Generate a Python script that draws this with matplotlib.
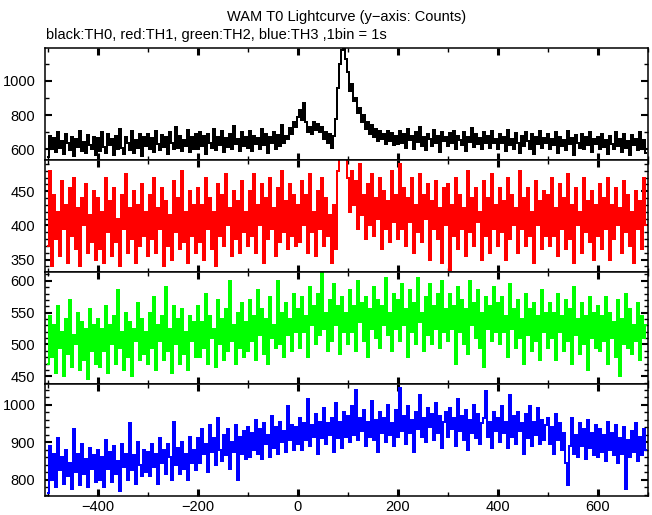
import numpy as np
import matplotlib.pyplot as plt
from matplotlib.ticker import MultipleLocator

plt.rcParams['font.family'] = ['Liberation Sans', 'DejaVu Sans']

# light curves, one value per 4 s starting at t = -500 s
th0 = [
    555, 680, 600, 665, 585, 700, 610, 650, 575, 690, 640, 595, 675, 560, 660, 615, 705, 590, 645, 580, 685, 625, 600, 670, 570,
    665, 590, 700, 615, 580, 690, 625, 660, 565, 680, 600, 720, 610, 575, 670, 640, 595, 705, 580, 655, 610, 690, 560, 675, 620,
    690, 600, 665, 585, 710, 630, 595, 685, 615, 670, 575, 700, 640, 600, 730, 610, 680, 590, 655, 620, 715, 585, 670, 605, 690,
    600, 700, 620, 680, 575, 690, 640, 610, 720, 595, 670, 625, 705, 585, 665, 615, 690, 600, 735, 630, 660, 590, 700, 620, 675,
    610, 705, 590, 680, 630, 665, 600, 720, 625, 690, 580, 670, 640, 700, 605, 685, 620, 740, 635, 680, 660, 725, 690, 760, 730,
    790, 830, 770, 870, 760, 700, 730, 690, 760, 715, 750, 700, 730, 660, 700, 640, 690, 610, 680, 780, 960, 1100, 1180, 1200, 1130,
    1050, 940, 980, 880, 900, 810, 840, 760, 800, 720, 760, 690, 740, 670, 720, 650, 705, 660, 690, 630, 710, 650, 695, 625, 680,
    630, 705, 640, 690, 610, 720, 655, 680, 600, 700, 645, 730, 620, 675, 595, 690, 660, 620, 715, 640, 680, 585, 700, 650, 670,
    620, 695, 640, 710, 600, 680, 655, 625, 700, 590, 670, 645, 725, 615, 690, 630, 665, 600, 700, 640, 680, 610, 705, 635, 660,
    600, 690, 640, 670, 590, 715, 625, 660, 605, 695, 640, 580, 680, 620, 700, 650, 600, 690, 575, 670, 630, 705, 610, 665, 640,
    690, 605, 660, 625, 700, 580, 675, 620, 655, 595, 710, 630, 665, 570, 685, 640, 610, 690, 600, 670, 625, 700, 585, 660, 630,
    675, 600, 690, 615, 655, 575, 680, 630, 605, 700, 620, 660, 585, 690, 610, 650, 570, 685, 625, 660, 595, 700, 605, 655, 580,
]
th1 = [
    370, 480, 340, 445, 380, 420, 355, 465, 395, 430, 345, 455, 385, 470, 365, 425, 340, 440, 400, 460, 360, 415, 375, 450, 350,
    440, 365, 420, 345, 470, 390, 435, 355, 455, 375, 410, 340, 445, 395, 475, 360, 425, 380, 450, 345, 430, 370, 460, 385, 420,
    355, 445, 380, 470, 360, 425, 395, 455, 340, 435, 370, 415, 350, 465, 390, 440, 365, 480, 375, 420, 345, 450, 385, 430, 360,
    455, 375, 430, 350, 470, 395, 440, 365, 420, 340, 460, 385, 445, 370, 475, 400, 425, 355, 450, 380, 435, 360, 465, 390, 420,
    370, 450, 385, 475, 360, 430, 400, 460, 345, 440, 380, 470, 395, 425, 355, 455, 375, 480, 390, 435, 365, 460, 385, 445, 370,
    430, 375, 465, 400, 445, 360, 475, 390, 420, 355, 450, 395, 470, 370, 440, 385, 415, 345, 430, 365, 480, 505, 520, 510, 500,
    470, 420, 480, 430, 465, 395, 490, 415, 445, 380, 460, 400, 475, 385, 440, 410, 470, 365, 450, 395, 435, 375, 480, 405, 445,
    380, 490, 395, 455, 370, 440, 405, 470, 360, 430, 390, 475, 375, 445, 410, 460, 350, 435, 395, 465, 380, 425, 345, 455, 400,
    460, 335, 430, 385, 470, 365, 445, 395, 425, 355, 480, 390, 440, 370, 455, 405, 420, 350, 465, 385, 440, 360, 475, 395, 430,
    370, 455, 390, 435, 350, 470, 380, 445, 400, 425, 360, 480, 395, 440, 370, 455, 385, 420, 345, 465, 400, 435, 365, 450, 385,
    445, 370, 470, 385, 425, 355, 460, 395, 440, 365, 475, 380, 430, 345, 455, 400, 420, 360, 470, 390, 435, 375, 450, 350, 430,
    385, 460, 365, 440, 395, 470, 350, 430, 380, 455, 400, 425, 360, 465, 390, 445, 370, 420, 345, 450, 395, 435, 365, 470, 400,
]
th2 = [
    470, 545, 480, 530, 455, 560, 495, 520, 450, 540, 485, 570, 465, 515, 500, 550, 460, 535, 475, 525, 445, 555, 490, 530, 470,
    540, 465, 525, 490, 560, 455, 530, 500, 545, 470, 585, 495, 520, 460, 550, 480, 535, 450, 525, 505, 565, 475, 540, 485, 520,
    470, 550, 495, 575, 460, 530, 505, 545, 475, 590, 490, 525, 455, 560, 500, 540, 470, 555, 485, 520, 460, 545, 505, 535, 480,
    560, 480, 535, 495, 580, 470, 545, 510, 525, 465, 570, 500, 540, 475, 555, 490, 600, 505, 530, 470, 550, 495, 565, 480, 535,
    490, 570, 505, 545, 475, 585, 515, 555, 485, 540, 470, 575, 510, 530, 495, 600, 500, 550, 480, 565, 515, 540, 490, 580, 520,
    555, 495, 575, 520, 545, 480, 590, 530, 560, 500, 580, 515, 615, 525, 550, 490, 570, 505, 595, 530, 560, 485, 575, 520, 550,
    500, 585, 520, 560, 490, 600, 535, 565, 505, 575, 480, 555, 525, 590, 510, 570, 495, 560, 530, 605, 515, 550, 490, 580, 525,
    570, 505, 595, 530, 555, 480, 585, 520, 565, 500, 605, 535, 550, 490, 575, 515, 595, 500, 560, 525, 580, 495, 600, 520, 555,
    505, 580, 525, 560, 470, 590, 520, 570, 500, 555, 485, 600, 530, 565, 510, 585, 495, 550, 465, 575, 525, 560, 505, 590, 520,
    565, 500, 575, 520, 545, 480, 595, 525, 555, 495, 570, 510, 540, 470, 580, 515, 555, 490, 565, 505, 545, 475, 585, 520, 550,
    495, 565, 510, 550, 475, 580, 520, 545, 490, 570, 505, 555, 470, 590, 515, 540, 485, 565, 500, 545, 460, 575, 510, 550, 495,
    560, 490, 545, 505, 575, 470, 550, 510, 535, 480, 570, 450, 540, 500, 580, 495, 555, 485, 530, 505, 565, 475, 545, 510, 530,
]
th3 = [
    765, 890, 800, 870, 780, 910, 825, 860, 790, 880, 810, 845, 775, 935, 820, 870, 785, 895, 815, 855, 780, 885, 830, 865, 795,
    880, 800, 860, 780, 905, 830, 875, 795, 890, 815, 850, 770, 895, 835, 870, 800, 950, 825, 865, 790, 900, 840, 810, 880, 820,
    875, 810, 895, 835, 870, 790, 910, 845, 880, 815, 895, 860, 800, 955, 840, 885, 815, 900, 830, 870, 800, 915, 845, 880, 825,
    910, 845, 935, 870, 895, 820, 945, 875, 910, 840, 965, 880, 850, 920, 865, 935, 830, 900, 875, 945, 800, 915, 870, 930, 855,
    940, 860, 925, 880, 960, 870, 935, 855, 950, 895, 920, 860, 970, 885, 940, 870, 955, 900, 930, 875, 995, 905, 945, 880, 940,
    895, 965, 880, 950, 905, 1015, 890, 945, 915, 975, 870, 955, 910, 990, 895, 950, 920, 965, 875, 1005, 910, 955, 885, 980, 915,
    970, 900, 995, 920, 1040, 905, 965, 930, 985, 890, 955, 915, 1010, 905, 960, 875, 980, 925, 965, 900, 1000, 920, 950, 890, 985,
    915, 1045, 930, 970, 895, 995, 925, 960, 875, 980, 935, 1025, 915, 965, 900, 990, 940, 975, 905, 1005, 925, 970, 885, 955, 980,
    915, 990, 935, 965, 890, 1015, 930, 970, 905, 985, 880, 960, 925, 1000, 910, 975, 895, 950, 965, 1035, 915, 955, 885, 980, 930,
    965, 900, 995, 925, 955, 885, 1025, 915, 970, 895, 980, 930, 950, 870, 975, 910, 995, 890, 955, 920, 990, 895, 960, 905, 945,
    965, 895, 940, 870, 975, 905, 950, 880, 925, 845, 785, 890, 965, 870, 920, 860, 950, 890, 935, 855, 960, 885, 925, 865, 945,
    860, 935, 875, 920, 850, 955, 880, 925, 865, 945, 845, 910, 870, 940, 775, 905, 860, 930, 875, 950, 850, 915, 865, 935, 880,
]

series = [th0, th1, th2, th3]
colors = ['black', '#ff0000', '#00ff00', '#0000ff']
ylims = [(540, 1193), (332, 496), (438, 614), (757, 1055)]
ymajor = [200, 50, 50, 100]
yminor = [100, 10, 10, 20]

fig = plt.figure(figsize=(6.52, 5.15), dpi=100)
gs = fig.add_gridspec(4, 1, left=45/652, right=648/652, bottom=19/515, top=467.3/515, hspace=0)

for i, y in enumerate(series):
    ax = fig.add_subplot(gs[i])
    t = -500 + 4 * np.arange(len(y))
    ax.plot(t, y, color=colors[i], lw=1.1, drawstyle='steps-mid', antialiased=False)
    ax.set_xlim(-505, 700)
    ax.set_ylim(*ylims[i])
    ax.xaxis.set_major_locator(MultipleLocator(200))
    ax.xaxis.set_minor_locator(MultipleLocator(100))
    ax.yaxis.set_major_locator(MultipleLocator(ymajor[i]))
    ax.yaxis.set_minor_locator(MultipleLocator(yminor[i]))
    ax.tick_params(which='both', direction='in', top=True, right=True, labelsize=10.5)
    ax.tick_params(which='major', length=5, width=1.5)
    ax.tick_params(which='minor', length=3, width=1.0)
    ax.tick_params(axis='x', which='major', width=2.2, pad=3)
    ax.tick_params(axis='y', pad=7)
    for s in ax.spines.values():
        s.set_linewidth(1.1)
    if i < 3:
        ax.tick_params(labelbottom=False)

fig.text(346.5/652, 1 - 17/515, 'WAM T0 Lightcurve (y\u2212axis: Counts)', ha='center', va='center', fontsize=10.5)
fig.text(46/652, 1 - 35/515, 'black:TH0, red:TH1, green:TH2, blue:TH3 ,1bin = 1s', ha='left', va='center', fontsize=10.5)

fig.savefig('out.png', dpi=100)
